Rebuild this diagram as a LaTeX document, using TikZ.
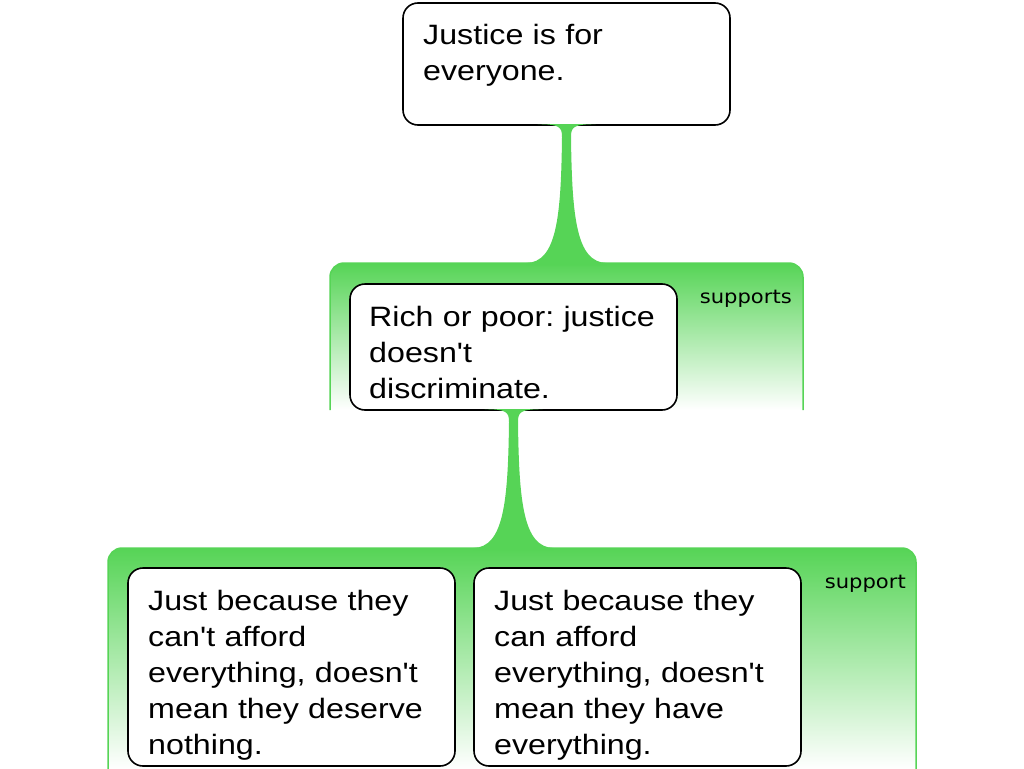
\documentclass[tikz,border=0pt]{standalone}
\usepackage{fontspec}
\setmainfont{Liberation Sans}
\newfontfamily\boxfont[FakeStretch=1.15]{Liberation Sans}
\newfontfamily\tagfont[FakeStretch=1.11]{DejaVu Sans}
\usepackage{tikz}
\usetikzlibrary{calc}
\definecolor{argugreen}{RGB}{86,212,86}
\frenchspacing

% green stem from a box down into its panel
\newcommand{\supportstem}[2]{%
  \fill[argugreen]
    ($(#1.south)+(-29,-0.8)$) .. controls ($(#1.south)+(-7,-0.8)$) and ($(#1.south)+(-4.5,2)$) .. ($(#1.south)+(-4.5,12)$)
    .. controls ($(#2)+(-5.5,-45)$) and ($(#2)+(-10,-1)$) .. ($(#2)+(-40,0)$)
    -- ($(#2)+(-40,2)$) -- ($(#2)+(40,2)$) -- ($(#2)+(40,0)$)
    .. controls ($(#2)+(10,-1)$) and ($(#2)+(5.5,-45)$) .. ($(#1.south)+(4.5,12)$)
    .. controls ($(#1.south)+(4.5,2)$) and ($(#1.south)+(7,-0.8)$) .. ($(#1.south)+(29,-0.8)$) -- cycle;}

\begin{document}
\begin{tikzpicture}[x=1pt,y=-1pt,
    box_node/.style={draw=black,line width=1.6pt,fill=white,rounded corners=15pt,anchor=north west,inner sep=0pt,outer sep=0pt},
    text_node/.style={anchor=base west,inner sep=0pt,text width=300pt,align=left,font=\boxfont\fontsize{28}{36}\selectfont},
    tag_node/.style={anchor=base east,inner sep=0pt,font=\tagfont\fontsize{19}{22}\selectfont},
    panel_fill/.style={top color=argugreen,bottom color=white,draw=argugreen,line width=1.5pt,rounded corners=14pt}]

    \useasboundingbox (0,0) rectangle (1024,768);

    % panels
    \path[panel_fill] (330,410) -- (330,263) -- (803,263) -- (803,410);
    \path[panel_fill] (108,769) -- (108,548) -- (916,548) -- (916,769);

    % boxes
    \node[box_node,minimum width=327pt,minimum height=122pt] (claim) at (403,3) {};
    \node[box_node,minimum width=327pt,minimum height=126pt] (reason) at (350,284) {};
    \node[box_node,minimum width=327pt,minimum height=198pt] (premise_a) at (128,568) {};
    \node[box_node,minimum width=327pt,minimum height=198pt] (premise_b) at (474,568) {};

    \node[text_node] (claim_text) at (423,45) {Justice is for\\everyone.};
    \node[text_node] (reason_text) at (369,326) {Rich or poor: justice\\doesn't\\discriminate.};
    \node[text_node] (premise_a_text) at (148,610) {Just because they\\can't afford\\everything, doesn't\\mean they deserve\\nothing.};
    \node[text_node] (premise_b_text) at (494,610) {Just because they\\can afford\\everything, doesn't\\mean they have\\everything.};

    % stems
    \coordinate (panel_a) at (claim.south |- 0,263);
    \coordinate (panel_b) at (reason.south |- 0,548);
    \supportstem{claim}{panel_a}
    \supportstem{reason}{panel_b}

    \node[tag_node] (tag_a) at (792,303) {supports};
    \node[tag_node] (tag_b) at (906,588) {support};

\end{tikzpicture}
\end{document}
